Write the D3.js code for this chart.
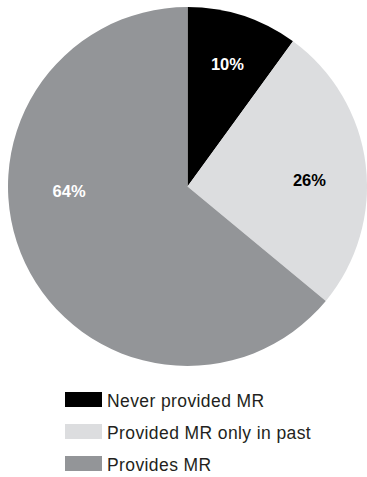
<!DOCTYPE html>
<html>
<head>
<meta charset="utf-8">
<script src="https://cdn.jsdelivr.net/npm/d3@7"></script>
<style>
  html, body { margin: 0; padding: 0; background: #fff; }
  svg { display: block; }
</style>
</head>
<body>
<svg id="chart" width="367" height="477"></svg>
<script>
// Share of respondents by MR provision status
const categories = ["Never provided MR", "Provided MR only in past", "Provides MR"];
const values = [10, 26, 64];
const labels = ["10%", "26%", "64%"];
const colors = ["#000000", "#dcdddf", "#939598"];
const labelColors = ["#ffffff", "#000000", "#ffffff"];

// Label placement in polar terms: angle (deg, clockwise from top) and radius fraction
const labelAngles = [18, 87, 268];
const labelRadii = [0.72, 0.68, 0.66];

const svg = d3.select("#chart");
const cx = 187.5, cy = 186.5, R = 179.5;

const pie = d3.pie().sort(null).value(d => d.value);
const arcs = pie(categories.map((c, i) => ({ name: c, value: values[i], i })));
const arc = d3.arc().innerRadius(0).outerRadius(R);

const g = svg.append("g").attr("transform", `translate(${cx},${cy})`);

g.selectAll("path.slice")
  .data(arcs)
  .join("path")
  .attr("class", "slice")
  .attr("d", arc)
  .attr("fill", d => colors[d.data.i]);

g.selectAll("text.pct")
  .data(arcs)
  .join("text")
  .attr("class", "pct")
  .attr("x", d => Math.sin(labelAngles[d.data.i] * Math.PI / 180) * R * labelRadii[d.data.i])
  .attr("y", d => -Math.cos(labelAngles[d.data.i] * Math.PI / 180) * R * labelRadii[d.data.i])
  .attr("text-anchor", "middle")
  .attr("dominant-baseline", "central")
  .attr("font-family", "'Liberation Sans', Arial, sans-serif")
  .attr("font-weight", "bold")
  .attr("font-size", 16.5)
  .attr("fill", d => labelColors[d.data.i])
  .text(d => labels[d.data.i]);

// Legend
const legend = svg.append("g").attr("transform", "translate(65,392)");
const row = legend.selectAll("g.item")
  .data(categories)
  .join("g")
  .attr("class", "item")
  .attr("transform", (d, i) => `translate(0,${i * 32})`);

row.append("rect")
  .attr("width", 37)
  .attr("height", 15)
  .attr("fill", (d, i) => colors[i]);

row.append("text")
  .attr("x", 42)
  .attr("y", 14.5)
  .attr("font-family", "'Liberation Sans', Arial, sans-serif")
  .attr("font-size", 17.5)
  .attr("letter-spacing", 0.4)
  .attr("fill", "#231f20")
  .text(d => d);
</script>
</body>
</html>
